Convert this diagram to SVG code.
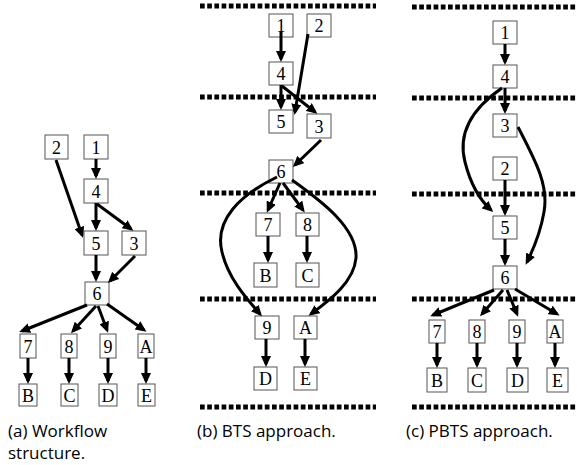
<svg xmlns="http://www.w3.org/2000/svg" width="577" height="465" viewBox="0 0 577 465">
  <style>
    .box rect { fill: #fff; stroke: #555; stroke-width: 1; }
    .box text { font-family: "Liberation Serif", "Times New Roman", serif; font-size: 18px; fill: #000; text-anchor: middle; }
    .edge { fill: none; stroke: #000; stroke-width: 3; marker-end: url(#ah); }
    .sep { stroke: #000; stroke-width: 4.8; stroke-dasharray: 4.7 2.5; }
    .cap { font-family: "Open Sans", "Noto Sans", sans-serif; font-size: 17px; fill: #000; }
  </style>
  <defs>
    <marker id="ah" markerUnits="userSpaceOnUse" markerWidth="12" markerHeight="10" refX="8" refY="5" orient="auto">
      <path d="M0,0 L11,5 L0,10 Z" fill="#000"/>
    </marker>
  </defs>

  <!-- level separators -->
  <g id="separators">
    <line class="sep" x1="200" y1="6" x2="376" y2="6"/>
    <line class="sep" x1="200" y1="97" x2="376" y2="97"/>
    <line class="sep" x1="200" y1="193" x2="376" y2="193"/>
    <line class="sep" x1="200" y1="299" x2="376" y2="299"/>
    <line class="sep" x1="200" y1="407" x2="376" y2="407"/>
    <line class="sep" x1="412" y1="7" x2="576" y2="7"/>
    <line class="sep" x1="412" y1="98" x2="576" y2="98"/>
    <line class="sep" x1="412" y1="194" x2="576" y2="194"/>
    <line class="sep" x1="412" y1="299" x2="576" y2="299"/>
    <line class="sep" x1="412" y1="407" x2="576" y2="407"/>
  </g>

  <!-- (a) workflow structure -->
  <g id="a-n2" class="box"><rect x="45" y="135" width="23" height="24"/><text x="56.5" y="153.5">2</text></g>
  <g id="a-n1" class="box"><rect x="84" y="135" width="24" height="24"/><text x="96" y="153.5">1</text></g>
  <g id="a-n4" class="box"><rect x="84" y="179" width="24" height="24"/><text x="96" y="197.5">4</text></g>
  <g id="a-n5" class="box"><rect x="84" y="231" width="24" height="24"/><text x="96" y="249.5">5</text></g>
  <g id="a-n3" class="box"><rect x="122" y="231" width="24" height="24"/><text x="134" y="249.5">3</text></g>
  <g id="a-n6" class="box"><rect x="85" y="282" width="24" height="23"/><text x="97" y="300">6</text></g>
  <g id="a-n7" class="box"><rect x="20" y="334" width="16" height="24"/><text x="28" y="352.5">7</text></g>
  <g id="a-n8" class="box"><rect x="61" y="334" width="16" height="24"/><text x="69" y="352.5">8</text></g>
  <g id="a-n9" class="box"><rect x="100" y="334" width="16" height="24"/><text x="108" y="352.5">9</text></g>
  <g id="a-nA" class="box"><rect x="138" y="334" width="16" height="24"/><text x="146" y="352.5">A</text></g>
  <g id="a-nB" class="box"><rect x="19" y="384" width="18" height="22"/><text x="28" y="401.5">B</text></g>
  <g id="a-nC" class="box"><rect x="61" y="384" width="17" height="22"/><text x="69.5" y="401.5">C</text></g>
  <g id="a-nD" class="box"><rect x="99" y="384" width="18" height="22"/><text x="108" y="401.5">D</text></g>
  <g id="a-nE" class="box"><rect x="138" y="384" width="17" height="22"/><text x="146.5" y="401.5">E</text></g>

  <!-- (b) BTS approach -->
  <g id="b-n1" class="box"><rect x="269" y="14" width="24" height="23"/><text x="281" y="32">1</text></g>
  <g id="b-n2" class="box"><rect x="307" y="14" width="24" height="23"/><text x="319" y="32">2</text></g>
  <g id="b-n4" class="box"><rect x="269" y="62" width="24" height="23"/><text x="281" y="80">4</text></g>
  <g id="b-n5" class="box"><rect x="269" y="110" width="24" height="23"/><text x="281" y="128">5</text></g>
  <g id="b-n3" class="box"><rect x="307" y="114" width="24" height="24"/><text x="319" y="132.5">3</text></g>
  <g id="b-n6" class="box"><rect x="269" y="160" width="24" height="23"/><text x="281" y="178">6</text></g>
  <g id="b-n7" class="box"><rect x="256" y="213" width="24" height="23"/><text x="268" y="231">7</text></g>
  <g id="b-n8" class="box"><rect x="296" y="213" width="23" height="23"/><text x="307.5" y="231">8</text></g>
  <g id="b-nB" class="box"><rect x="254" y="263" width="23" height="24"/><text x="265.5" y="281.5">B</text></g>
  <g id="b-nC" class="box"><rect x="296" y="263" width="23" height="24"/><text x="307.5" y="281.5">C</text></g>
  <g id="b-n9" class="box"><rect x="255" y="316" width="24" height="23"/><text x="267" y="334">9</text></g>
  <g id="b-nA" class="box"><rect x="294" y="316" width="23" height="23"/><text x="305.5" y="334">A</text></g>
  <g id="b-nD" class="box"><rect x="254" y="367" width="23" height="23"/><text x="265.5" y="385">D</text></g>
  <g id="b-nE" class="box"><rect x="294" y="367" width="23" height="23"/><text x="305.5" y="385">E</text></g>

  <!-- (c) PBTS approach -->
  <g id="c-n1" class="box"><rect x="493" y="21" width="24" height="23"/><text x="505" y="39">1</text></g>
  <g id="c-n4" class="box"><rect x="493" y="65" width="24" height="23"/><text x="505" y="83">4</text></g>
  <g id="c-n3" class="box"><rect x="493" y="114" width="24" height="23"/><text x="505" y="132">3</text></g>
  <g id="c-n2" class="box"><rect x="493" y="157" width="24" height="23"/><text x="505" y="175">2</text></g>
  <g id="c-n5" class="box"><rect x="493" y="216" width="24" height="23"/><text x="505" y="234">5</text></g>
  <g id="c-n6" class="box"><rect x="493" y="266" width="24" height="23"/><text x="505" y="284">6</text></g>
  <g id="c-n7" class="box"><rect x="429" y="320" width="16" height="23"/><text x="437" y="338">7</text></g>
  <g id="c-n8" class="box"><rect x="469" y="320" width="16" height="23"/><text x="477" y="338">8</text></g>
  <g id="c-n9" class="box"><rect x="509" y="320" width="16" height="23"/><text x="517" y="338">9</text></g>
  <g id="c-nA" class="box"><rect x="547" y="320" width="16" height="23"/><text x="555" y="338">A</text></g>
  <g id="c-nB" class="box"><rect x="427" y="368" width="20" height="24"/><text x="437" y="386.5">B</text></g>
  <g id="c-nC" class="box"><rect x="468" y="368" width="18" height="24"/><text x="477" y="386.5">C</text></g>
  <g id="c-nD" class="box"><rect x="507" y="368" width="21" height="24"/><text x="517.5" y="386.5">D</text></g>
  <g id="c-nE" class="box"><rect x="547" y="368" width="21" height="24"/><text x="557.5" y="386.5">E</text></g>

  <!-- dependencies -->
  <g id="connectors">
    <!-- (a) -->
    <path class="edge" d="M96,159 L96,176"/>
    <path class="edge" d="M96,203 L96,228"/>
    <path class="edge" d="M97,204 L131,229"/>
    <path class="edge" d="M56,160 L82,235"/>
    <path class="edge" d="M96,255 L96,279"/>
    <path class="edge" d="M135,256 L110,281"/>
    <path class="edge" d="M87,305 L22,331"/>
    <path class="edge" d="M96,306 L73,331"/>
    <path class="edge" d="M98,306 L107,330"/>
    <path class="edge" d="M107,304 L144,330"/>
    <path class="edge" d="M28,358 L28,381"/>
    <path class="edge" d="M69,358 L69,381"/>
    <path class="edge" d="M108,358 L108,381"/>
    <path class="edge" d="M146,358 L146,381"/>

    <!-- (b) -->
    <path class="edge" d="M281,31 L281,59"/>
    <path class="edge" d="M308,34 L295,112"/>
    <path class="edge" d="M281,85 L281,107"/>
    <path class="edge" d="M282,86 L315,112"/>
    <path class="edge" d="M321,140 L295,165"/>
    <path class="edge" d="M280,183 L268,210"/>
    <path class="edge" d="M283,183 L303,210"/>
    <path class="edge" d="M277,177 C240,195 214,220 222,252 C228,278 246,298 260,314"/>
    <path class="edge" d="M292,180 C320,200 358,228 356,258 C354,282 330,300 311,314"/>
    <path class="edge" d="M268,236 L268,260"/>
    <path class="edge" d="M307,236 L307,260"/>
    <path class="edge" d="M266,339 L266,364"/>
    <path class="edge" d="M305,339 L305,364"/>

    <!-- (c) -->
    <path class="edge" d="M505,44 L505,62"/>
    <path class="edge" d="M505,88 L505,111"/>
    <path class="edge" d="M502,88 C470,110 458,135 465,162 C471,186 480,200 491,210"/>
    <path class="edge" d="M518,127 C535,160 549,185 544,212 C540,235 533,250 527,262"/>
    <path class="edge" d="M505,180 L505,213"/>
    <path class="edge" d="M505,239 L505,263"/>
    <path class="edge" d="M494,290 L433,315"/>
    <path class="edge" d="M503,290 L482,314"/>
    <path class="edge" d="M507,290 L517,314"/>
    <path class="edge" d="M515,289 L557,314"/>
    <path class="edge" d="M437,343 L437,365"/>
    <path class="edge" d="M477,343 L477,365"/>
    <path class="edge" d="M517,343 L517,365"/>
    <path class="edge" d="M555,343 L555,365"/>
  </g>

  <!-- sub-figure captions -->
  <g id="captions">
    <text class="cap" x="8" y="437">(a) Workflow</text>
    <text class="cap" x="8" y="459">structure.</text>
    <text class="cap" x="197" y="437">(b) BTS approach.</text>
    <text class="cap" x="406" y="437">(c) PBTS approach.</text>
  </g>
</svg>
